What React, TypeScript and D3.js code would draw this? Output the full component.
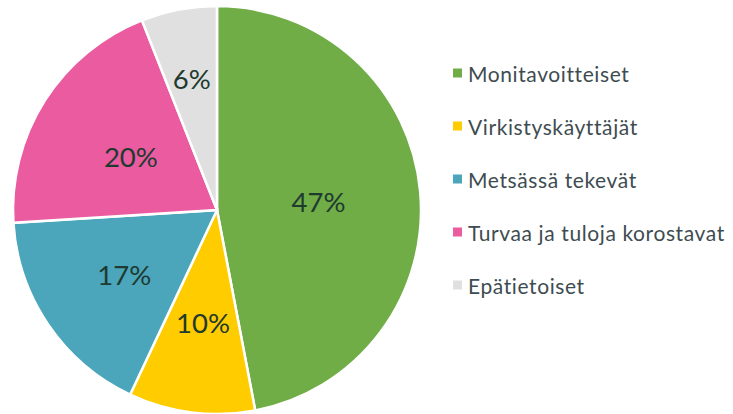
import React from "react";
import * as d3 from "d3";

const categories = ["Monitavoitteiset", "Virkistyskäyttäjät", "Metsässä tekevät", "Turvaa ja tuloja korostavat", "Epätietoiset"];
const values = [47, 10, 17, 20, 6];
const colors = ["#70AD47", "#FFCC00", "#4BA6BC", "#EA5BA0", "#E0E0E0"];
const labelRadiusFactor = [0.5, 0.55, 0.55, 0.5, 0.66];

const W = 733, H = 414;
const cx = 217, cy = 210, R = 204;
const FONT = "Lato, 'Open Sans', sans-serif";

export default function App() {
  const pie = d3.pie<number>().sort(null).value((d) => d);
  const arcs = pie(values);
  const arc = d3.arc<d3.PieArcDatum<number>>().innerRadius(0).outerRadius(R);
  const legendY = d3.scalePoint<string>().domain(categories).range([73, 285]);
  return (
    <svg width={W} height={H} style={{ position: "absolute", left: 0, top: 0 }}>
      <rect width={W} height={H} fill="#fff" />
      <g transform={`translate(${cx},${cy})`}>
        {arcs.map((a, i) => (
          <path key={i} d={arc(a) || ""} fill={colors[i]} stroke="#fff" strokeWidth={2.5} />
        ))}
        {arcs.map((a, i) => {
          const mid = (a.startAngle + a.endAngle) / 2;
          const r = R * labelRadiusFactor[i];
          const x = Math.sin(mid) * r;
          const y = -Math.cos(mid) * r;
          return (
            <text key={i} x={x} y={y + 1} textAnchor="middle" dominantBaseline="central"
              fontFamily={FONT} fontSize={27.5} fill="#1f3a2f">
              {values[i]}%
            </text>
          );
        })}
      </g>
      {categories.map((c, i) => (
        <g key={c} transform={`translate(453,${legendY(c)})`}>
          <rect x={0} y={-4.5} width={9} height={9} fill={colors[i]} />
          <text x={15} y={0} dominantBaseline="central" fontFamily={FONT} fontSize={21} letterSpacing={0.6} fill="#3e4c51">
            {c}
          </text>
        </g>
      ))}
    </svg>
  );
}
